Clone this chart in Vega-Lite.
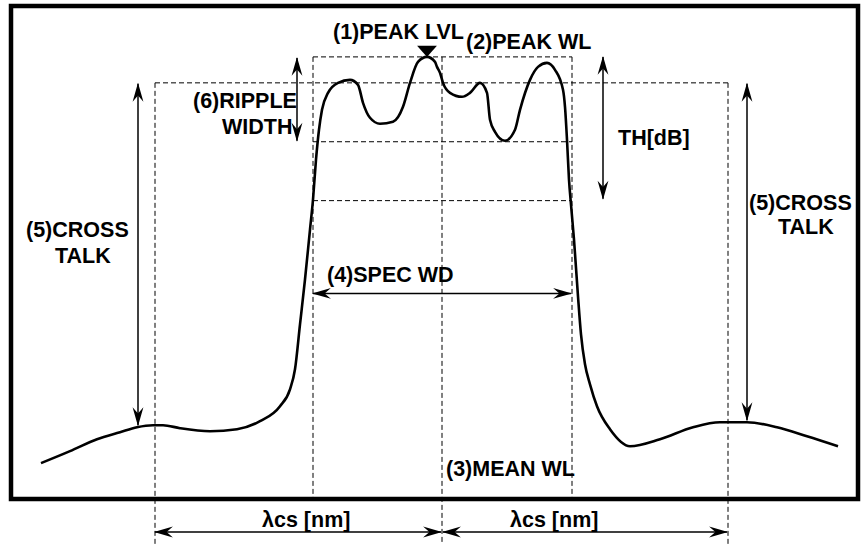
{
  "$schema": "https://vega.github.io/schema/vega-lite/v6.json",
  "width": 862,
  "height": 545,
  "autosize": {"type": "fit", "contains": "padding"},
  "padding": 0,
  "background": "white",
  "config": {"view": {"stroke": null}},
  "datasets": {
    "curve": [
      {"x": 41, "y": 464}, {"x": 70, "y": 452}, {"x": 97, "y": 440}, {"x": 120, "y": 433},
      {"x": 137, "y": 428}, {"x": 153, "y": 426}, {"x": 163, "y": 426}, {"x": 180, "y": 429},
      {"x": 210, "y": 432}, {"x": 237, "y": 430}, {"x": 260, "y": 422}, {"x": 280, "y": 407},
      {"x": 290, "y": 390}, {"x": 295, "y": 370}, {"x": 300, "y": 325}, {"x": 305, "y": 280},
      {"x": 310, "y": 230}, {"x": 313, "y": 200}, {"x": 316, "y": 160}, {"x": 319, "y": 130},
      {"x": 322, "y": 110}, {"x": 328, "y": 93}, {"x": 338, "y": 83}, {"x": 350, "y": 80},
      {"x": 358, "y": 85}, {"x": 363, "y": 103}, {"x": 370, "y": 118}, {"x": 380, "y": 124},
      {"x": 393, "y": 122}, {"x": 403, "y": 107}, {"x": 410, "y": 83}, {"x": 418, "y": 62},
      {"x": 427, "y": 57}, {"x": 435, "y": 62}, {"x": 437, "y": 67}, {"x": 440, "y": 73},
      {"x": 443, "y": 83}, {"x": 450, "y": 93}, {"x": 462, "y": 97}, {"x": 470, "y": 93},
      {"x": 480, "y": 83}, {"x": 487, "y": 93}, {"x": 490, "y": 120}, {"x": 495, "y": 132},
      {"x": 505, "y": 141}, {"x": 515, "y": 130}, {"x": 520, "y": 110}, {"x": 530, "y": 80},
      {"x": 538, "y": 67}, {"x": 547, "y": 63}, {"x": 555, "y": 70}, {"x": 563, "y": 90},
      {"x": 565, "y": 107}, {"x": 567, "y": 140}, {"x": 569, "y": 180}, {"x": 571, "y": 205},
      {"x": 574, "y": 240}, {"x": 578, "y": 297}, {"x": 581, "y": 335}, {"x": 585, "y": 365},
      {"x": 590, "y": 385}, {"x": 597, "y": 407}, {"x": 610, "y": 430}, {"x": 630, "y": 447},
      {"x": 660, "y": 440}, {"x": 693, "y": 428}, {"x": 720, "y": 423}, {"x": 747, "y": 423},
      {"x": 777, "y": 428}, {"x": 807, "y": 437}, {"x": 838, "y": 447}
    ],
    "dashed": [
      {"x": 155, "x2": 155, "y": 83, "y2": 545},
      {"x": 313, "x2": 313, "y": 57, "y2": 498},
      {"x": 442, "x2": 442, "y": 57, "y2": 545},
      {"x": 572, "x2": 572, "y": 57, "y2": 498},
      {"x": 728, "x2": 728, "y": 83, "y2": 545},
      {"x": 313, "x2": 572, "y": 57, "y2": 57},
      {"x": 155, "x2": 728, "y": 83, "y2": 83},
      {"x": 313, "x2": 572, "y": 142, "y2": 142},
      {"x": 313, "x2": 572, "y": 201, "y2": 201}
    ],
    "shafts": [
      {"x": 138, "x2": 138, "y": 84, "y2": 426},
      {"x": 297, "x2": 297, "y": 58, "y2": 141},
      {"x": 603, "x2": 603, "y": 57, "y2": 199},
      {"x": 747, "x2": 747, "y": 84, "y2": 421},
      {"x": 313, "x2": 571, "y": 294, "y2": 294},
      {"x": 155, "x2": 441, "y": 533, "y2": 533},
      {"x": 443, "x2": 727, "y": 533, "y2": 533}
    ],
    "heads": [
      {"x": 138, "y": 83, "dir": "up"}, {"x": 138, "y": 427, "dir": "down"},
      {"x": 297, "y": 57, "dir": "up"}, {"x": 297, "y": 142, "dir": "down"},
      {"x": 603, "y": 56, "dir": "up"}, {"x": 603, "y": 200, "dir": "down"},
      {"x": 747, "y": 83, "dir": "up"}, {"x": 747, "y": 422, "dir": "down"},
      {"x": 312, "y": 294, "dir": "left"}, {"x": 572, "y": 294, "dir": "right"},
      {"x": 154, "y": 533, "dir": "left"}, {"x": 442, "y": 533, "dir": "right"},
      {"x": 442, "y": 533, "dir": "left"}, {"x": 728, "y": 533, "dir": "right"},
      {"x": 427, "y": 57, "dir": "peak"}
    ],
    "labels": [
      {"x": 333, "y": 39, "t": "(1)PEAK LVL"},
      {"x": 466, "y": 49, "t": "(2)PEAK WL"},
      {"x": 193, "y": 108, "t": "(6)RIPPLE"},
      {"x": 222, "y": 134, "t": "WIDTH"},
      {"x": 618, "y": 145, "t": "TH[dB]"},
      {"x": 26, "y": 237, "t": "(5)CROSS"},
      {"x": 55, "y": 263, "t": "TALK"},
      {"x": 749, "y": 210, "t": "(5)CROSS"},
      {"x": 778, "y": 234, "t": "TALK"},
      {"x": 327, "y": 283, "t": "(4)SPEC WD"},
      {"x": 446, "y": 477, "t": "(3)MEAN WL"},
      {"x": 262, "y": 528, "t": "λcs [nm]"},
      {"x": 510, "y": 528, "t": "λcs [nm]"}
    ],
    "frame": [{"x": 11, "x2": 858, "y": 6, "y2": 500}]
  },
  "layer": [
    {
      "data": {"name": "dashed"},
      "mark": {"type": "rule", "color": "#000", "strokeWidth": 1, "strokeDash": [5, 3]},
      "encoding": {
        "x": {"field": "x", "type": "quantitative", "scale": {"domain": [0, 862], "nice": false, "zero": false}, "axis": null},
        "x2": {"field": "x2"},
        "y": {"field": "y", "type": "quantitative", "scale": {"domain": [0, 545], "nice": false, "zero": false, "reverse": true}, "axis": null},
        "y2": {"field": "y2"}
      }
    },
    {
      "data": {"name": "frame"},
      "mark": {"type": "rect", "filled": false, "color": "#000", "strokeWidth": 4.5},
      "encoding": {
        "x": {"field": "x", "type": "quantitative"},
        "x2": {"field": "x2"},
        "y": {"field": "y", "type": "quantitative"},
        "y2": {"field": "y2"}
      }
    },
    {
      "data": {"name": "curve"},
      "mark": {"type": "line", "color": "#000", "strokeWidth": 2.6, "interpolate": "monotone"},
      "encoding": {
        "x": {"field": "x", "type": "quantitative"},
        "y": {"field": "y", "type": "quantitative"}
      }
    },
    {
      "data": {"name": "shafts"},
      "mark": {"type": "rule", "color": "#000", "strokeWidth": 1.5},
      "encoding": {
        "x": {"field": "x", "type": "quantitative"},
        "x2": {"field": "x2"},
        "y": {"field": "y", "type": "quantitative"},
        "y2": {"field": "y2"}
      }
    },
    {
      "data": {"name": "heads"},
      "mark": {"type": "point", "filled": true, "color": "#000", "opacity": 1, "size": 81},
      "encoding": {
        "x": {"field": "x", "type": "quantitative"},
        "y": {"field": "y", "type": "quantitative"},
        "shape": {
          "field": "dir", "type": "nominal", "legend": null,
          "scale": {
            "domain": ["up", "down", "left", "right", "peak"],
            "range": [
              "M0,0 L1.2,4.2 L0,2.8 L-1.2,4.2 Z",
              "M0,0 L1.2,-4.2 L0,-2.8 L-1.2,-4.2 Z",
              "M0,0 L4.2,1.2 L2.8,0 L4.2,-1.2 Z",
              "M0,0 L-4.2,1.2 L-2.8,0 L-4.2,-1.2 Z",
              "M0,0 L-2.2,-2.5 L2.2,-2.5 Z"
            ]
          }
        }
      }
    },
    {
      "data": {"name": "labels"},
      "mark": {"type": "text", "align": "left", "baseline": "alphabetic", "font": "Liberation Sans", "fontWeight": "bold", "fontSize": 21.5, "color": "#000"},
      "encoding": {
        "x": {"field": "x", "type": "quantitative"},
        "y": {"field": "y", "type": "quantitative"},
        "text": {"field": "t", "type": "nominal"}
      }
    }
  ]
}
